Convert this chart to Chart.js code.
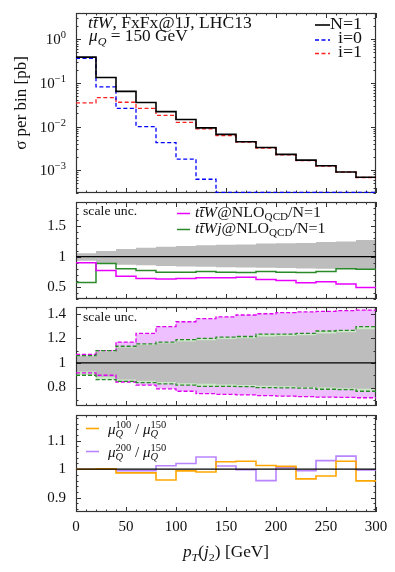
<!DOCTYPE html>
<html>
<head>
<meta charset="utf-8">
<script src="https://cdn.jsdelivr.net/npm/chart.js@4.4.0/dist/chart.umd.min.js"></script>
<style>
  body { margin: 0; background: #fff; }
  #wrap { position: relative; width: 395px; height: 572px; }
  canvas { position: absolute; left: 0; }
</style>
</head>
<body>
<div id="wrap">
  <canvas id="c1" width="395" height="200" style="top:0px"></canvas>
  <canvas id="c2" width="395" height="102" style="top:200px"></canvas>
  <canvas id="c3" width="395" height="106" style="top:302px"></canvas>
  <canvas id="c4" width="395" height="162" style="top:410px"></canvas>
</div>
<script>
// bins of pT(j2), GeV
const binEdges = [0, 20, 40, 60, 80, 100, 120, 140, 160, 180, 200, 220, 240, 260, 280, 300];

// top panel: sigma per bin [pb]
const sigmaN1 = [0.39, 0.133, 0.064, 0.0355, 0.022, 0.0145, 0.0093, 0.0066, 0.0045, 0.0033, 0.0023, 0.0017, 0.00126, 0.00091, 0.00069];
const sigmaI0 = [0.367, 0.081, 0.026, 0.0100, 0.0043, 0.0018, 0.00062, 0.00031, 0.00031, 0.00031, 0.00031, 0.00031, 0.00031, 0.00031, 0.00031];
const sigmaI1 = [0.035, 0.046, 0.036, 0.026, 0.018, 0.0124, 0.0088, 0.0062, 0.0044, 0.0032, 0.00226, 0.00166, 0.00124, 0.0009, 0.00068];

// N=1 scale uncertainty band (ratio)
const n1Up = [1.055, 1.09, 1.125, 1.145, 1.16, 1.175, 1.185, 1.195, 1.2, 1.215, 1.22, 1.225, 1.24, 1.25, 1.275];
const n1Dn = [0.93, 0.885, 0.865, 0.855, 0.845, 0.835, 0.83, 0.825, 0.82, 0.815, 0.81, 0.805, 0.8, 0.795, 0.79];

// second panel: NLO / N=1
const ttwNloRatio  = [0.90, 0.77, 0.677, 0.64, 0.628, 0.64, 0.65, 0.65, 0.66, 0.623, 0.606, 0.568, 0.584, 0.546, 0.49];
const ttwjNloRatio = [0.574, 0.885, 0.80, 0.77, 0.743, 0.743, 0.754, 0.743, 0.738, 0.754, 0.743, 0.738, 0.754, 0.797, 0.79];

// third panel: scale uncertainty envelopes
const ttwUp  = [1.07, 1.10, 1.17, 1.24, 1.295, 1.335, 1.36, 1.375, 1.39, 1.40, 1.41, 1.415, 1.42, 1.425, 1.43];
const ttwDn  = [0.92, 0.90, 0.845, 0.82, 0.79, 0.77, 0.75, 0.745, 0.74, 0.734, 0.73, 0.726, 0.722, 0.72, 0.717];
const ttwjUp = [1.06, 1.10, 1.136, 1.155, 1.17, 1.19, 1.20, 1.21, 1.215, 1.235, 1.235, 1.24, 1.26, 1.265, 1.295];
const ttwjDn = [0.90, 0.865, 0.85, 0.84, 0.83, 0.82, 0.81, 0.81, 0.807, 0.80, 0.797, 0.795, 0.786, 0.783, 0.77];

// bottom panel: mu_Q variations
const mu100Ratio = [1.0, 1.001, 0.987, 0.987, 0.962, 0.994, 0.99, 1.026, 1.028, 1.013, 1.01, 0.966, 0.976, 1.028, 0.959];
const mu200Ratio = [1.0, 1.0, 0.995, 0.995, 1.012, 1.02, 1.043, 1.011, 0.998, 0.96, 1.005, 0.995, 1.03, 1.046, 0.997];

// tick labels
const xTicks = [0, 50, 100, 150, 200, 250, 300];
const topExponents = [-3, -2, -1, 0];
const ticks2 = [0.5, 1, 1.5];
const ticks3 = [0.8, 1, 1.2, 1.4];
const ticks4 = [0.9, 1, 1.1];

const SERIF = "'Liberation Serif', 'DejaVu Serif', serif";
Chart.defaults.font.family = SERIF;
Chart.defaults.font.size = 15;
Chart.defaults.color = '#111';

function steps(vals) {
  const pts = vals.map((v, i) => ({ x: binEdges[i], y: v }));
  pts.push({ x: binEdges[binEdges.length - 1], y: vals[vals.length - 1] });
  return pts;
}
const unity = binEdges.map(x => ({ x: x, y: 1 }));

// rich text: parts = [[text, flags]], flags: i italic, b sub, p sup, o overlay previous
function drawRich(ctx, x, y, parts, size, align, hs) {
  hs = hs || 1;
  let cx = 0, lastStart = 0;
  const items = [];
  parts.forEach(p => {
    const t = p[0], f = p[1] || '';
    const small = f.includes('b') || f.includes('p');
    const fs = small ? size * 0.7 : size;
    const font = (f.includes('i') ? 'italic ' : '') + fs.toFixed(1) + 'px ' + SERIF;
    ctx.font = font;
    const w = ctx.measureText(t).width;
    const dy = f.includes('b') ? size * 0.22 : (f.includes('p') ? -size * 0.4 : 0);
    let sx;
    if (f.includes('o')) { sx = lastStart; cx = Math.max(cx, sx + w); }
    else { sx = cx; lastStart = sx; cx += w; }
    items.push({ t, font, sx, dy });
  });
  let x0 = x;
  if (align === 'right') x0 = x - cx * hs;
  else if (align === 'center') x0 = x - cx * hs / 2;
  ctx.save();
  ctx.translate(x0, y);
  ctx.scale(hs, 1);
  ctx.fillStyle = '#111';
  ctx.textBaseline = 'alphabetic';
  ctx.textAlign = 'left';
  items.forEach(it => { ctx.font = it.font; ctx.fillText(it.t, it.sx, it.dy); });
  ctx.restore();
}

// frame + inward ticks (under the lines), then annotations and legend
function deco(cfg) {
  return {
    id: 'deco',
    beforeDatasetsDraw(chart) {
      const { ctx, chartArea: a, scales } = chart;
      ctx.save();
      ctx.strokeStyle = '#333';
      ctx.lineWidth = 1;
      ctx.beginPath();
      for (let v = 0; v <= 300; v += 10) {
        const px = Math.round(scales.x.getPixelForValue(v)) + 0.5;
        const len = v % 50 === 0 ? 5 : 2.5;
        ctx.moveTo(px, a.bottom); ctx.lineTo(px, a.bottom - len);
        ctx.moveTo(px, a.top); ctx.lineTo(px, a.top + len);
      }
      const yt = (v, len) => {
        if (v < scales.y.min || v > scales.y.max) return;
        const py = Math.round(scales.y.getPixelForValue(v)) + 0.5;
        ctx.moveTo(a.left, py); ctx.lineTo(a.left + len, py);
        ctx.moveTo(a.right, py); ctx.lineTo(a.right - len, py);
      };
      if (cfg.log) {
        for (let e = -4; e <= 0; e++) {
          yt(Math.pow(10, e), 5);
          for (let k = 2; k <= 9; k++) yt(k * Math.pow(10, e), 2.5);
        }
      } else {
        cfg.yMajor.forEach(v => yt(v, 5));
        for (let v = Math.ceil(scales.y.min / cfg.yMinor) * cfg.yMinor; v <= scales.y.max; v += cfg.yMinor) yt(v, 2.5);
      }
      ctx.stroke();
      ctx.lineWidth = 1.2;
      ctx.strokeRect(a.left + 0.5, a.top + 0.5, a.width - 1, a.height - 1);
      ctx.restore();
    },
    afterDatasetsDraw(chart) {
      const { ctx, chartArea: a, scales } = chart;
      if (cfg.log) {
        topExponents.forEach(e => {
          const py = scales.y.getPixelForValue(Math.pow(10, e));
          drawRich(ctx, a.left - 10, py + 5, [['10'], [e < 0 ? '\u2212' + (-e) : String(e), 'p']], 15, 'right');
        });
      }
      (cfg.texts || []).forEach(t => {
        drawRich(ctx, a.left + t.dx, (t.bottom ? a.bottom : a.top) + t.dy, t.parts, t.size, t.align, t.hs);
      });
      (cfg.legend || []).forEach(l => {
        const ds = chart.data.datasets[l.ds];
        ctx.save();
        ctx.strokeStyle = ds.borderColor;
        ctx.lineWidth = ds.borderWidth;
        ctx.setLineDash(ds.borderDash || []);
        ctx.beginPath();
        ctx.moveTo(a.left + l.x1, a.top + l.y);
        ctx.lineTo(a.left + l.x2, a.top + l.y);
        ctx.stroke();
        ctx.restore();
        drawRich(ctx, a.left + l.tx, a.top + l.ty, l.parts, l.size, l.align, l.hs);
      });
    }
  };
}

function line(data, color, width, dash, extra) {
  return Object.assign({
    data: steps(data), borderColor: color, borderWidth: width, borderDash: dash || [],
    stepped: true, pointRadius: 0, fill: false, order: 0
  }, extra || {});
}

const xHidden = { type: 'linear', min: 0, max: 300, display: false };
function ratioY(min, max, ticks) {
  return {
    type: 'linear', min: min, max: max,
    grid: { display: false, drawTicks: false }, border: { display: false },
    afterBuildTicks: s => { s.ticks = ticks.map(v => ({ value: v })); },
    afterFit: s => { s.width = 76; s.paddingTop = 0; s.paddingBottom = 0; },
    ticks: { padding: 10, font: { size: 15 }, color: '#111', callback: v => String(+(+v).toFixed(2)) }
  };
}
const baseOpts = {
  responsive: false, animation: false, events: [],
  plugins: { legend: { display: false }, tooltip: { enabled: false }, filler: { drawTime: 'beforeDatasetsDraw' } }
};
const ttW = [['t', 'i'], ['t\u0304', 'i'], ['W', 'i']];

// panel 1: cross section
new Chart(document.getElementById('c1'), {
  type: 'line',
  data: {
    datasets: [
      line(sigmaN1, '#000', 1.6),
      line(sigmaI0, '#0000ff', 1.3, [4, 2.5]),
      line(sigmaI1, '#ff2020', 1.3, [4, 2.5])
    ]
  },
  options: Object.assign({}, baseOpts, {
    layout: { padding: { left: 0, right: 19, top: 13, bottom: 7 } },
    scales: {
      x: xHidden,
      y: {
        type: 'logarithmic', min: 3e-4, max: 4,
        grid: { display: false, drawTicks: false }, border: { display: false },
        ticks: { display: false },
        title: { display: true, text: '\u03c3 per bin [pb]', font: { size: 17 }, color: '#111', padding: { top: 11, bottom: 0 } },
        afterFit: s => { s.width = 76; s.paddingTop = 0; s.paddingBottom = 0; }
      }
    }
  }),
  plugins: [deco({
    log: true,
    texts: [
      { dx: 12, dy: 15, size: 16, hs: 1.1, parts: ttW.concat([[', FxFx@1J, LHC13']]) },
      { dx: 13, dy: 28, size: 16, hs: 1.08, parts: [['\u03bc', 'i'], ['Q', 'ib'], [' = 150 GeV']] }
    ],
    legend: [
      { ds: 0, x1: 239, x2: 254, y: 12, tx: 286, ty: 16, size: 16, hs: 1.12, align: 'right', parts: [['N=1']] },
      { ds: 1, x1: 239, x2: 254, y: 27, tx: 286, ty: 30, size: 16, hs: 1.12, align: 'right', parts: [['i=0']] },
      { ds: 2, x1: 239, x2: 254, y: 40.5, tx: 286, ty: 44, size: 16, hs: 1.12, align: 'right', parts: [['i=1']] }
    ]
  })]
});

// panel 2: NLO ratios
new Chart(document.getElementById('c2'), {
  type: 'line',
  data: {
    datasets: [
      line(n1Up, 'rgba(0,0,0,0)', 0, [], { fill: 1, backgroundColor: '#bdbdbd', order: 1 }),
      line(n1Dn, 'rgba(0,0,0,0)', 0, [], { order: 1 }),
      line(ttwNloRatio, '#e800ff', 1.5),
      line(ttwjNloRatio, '#2a8a2a', 1.5),
      { data: unity, borderColor: '#000', borderWidth: 1.2, pointRadius: 0, fill: false, order: -1 }
    ]
  },
  options: Object.assign({}, baseOpts, {
    layout: { padding: { left: 0, right: 19, top: 2, bottom: 3 } },
    scales: { x: xHidden, y: ratioY(0.3, 1.9, ticks2) }
  }),
  plugins: [deco({
    yMajor: ticks2, yMinor: 0.1,
    texts: [{ dx: 7, dy: 13, size: 12.5, hs: 1.1, parts: [['scale unc.']] }],
    legend: [
      { ds: 2, x1: 101, x2: 114, y: 11.5, tx: 119, ty: 15, size: 14.5, hs: 1.1, parts: ttW.concat([['@NLO'], ['QCD', 'b'], ['/N=1']]) },
      { ds: 3, x1: 101, x2: 114, y: 27.5, tx: 119, ty: 31, size: 14.5, hs: 1.1, parts: [['t', 'i'], ['t\u0304', 'i'], ['Wj', 'i'], ['@NLO'], ['QCD', 'b'], ['/N=1']] }
    ]
  })]
});

// panel 3: scale uncertainties
new Chart(document.getElementById('c3'), {
  type: 'line',
  data: {
    datasets: [
      line(n1Up, 'rgba(0,0,0,0)', 0, [], { fill: 1, backgroundColor: '#bdbdbd', order: 1 }),
      line(n1Dn, 'rgba(0,0,0,0)', 0, [], { order: 1 }),
      line(ttwUp, '#e000f0', 1.3, [4, 2], { fill: 3, backgroundColor: '#efc0ff', order: 3 }),
      line(ttwDn, '#e000f0', 1.3, [4, 2], { order: 3 }),
      line(ttwjUp, '#2a8a2a', 1.3, [4, 2], { fill: 5, backgroundColor: '#cde8c8', order: 2 }),
      line(ttwjDn, '#2a8a2a', 1.3, [4, 2], { order: 2 }),
      { data: unity, borderColor: '#000', borderWidth: 1.2, pointRadius: 0, fill: false, order: -1 }
    ]
  },
  options: Object.assign({}, baseOpts, {
    layout: { padding: { left: 0, right: 19, top: 5, bottom: 2 } },
    scales: { x: xHidden, y: ratioY(0.65, 1.455, ticks3) }
  }),
  plugins: [deco({
    yMajor: ticks3, yMinor: 0.1,
    texts: [{ dx: 7, dy: 14, size: 12.5, hs: 1.1, parts: [['scale unc.']] }]
  })]
});

// panel 4: mu_Q variations
new Chart(document.getElementById('c4'), {
  type: 'line',
  data: {
    datasets: [
      line(mu100Ratio, '#ffa600', 1.6),
      line(mu200Ratio, '#b885ff', 1.6),
      { data: unity, borderColor: '#000', borderWidth: 1.2, pointRadius: 0, fill: false, order: -1 }
    ]
  },
  options: Object.assign({}, baseOpts, {
    layout: { padding: { left: 0, right: 19, top: 5, bottom: 0 } },
    scales: {
      x: {
        type: 'linear', min: 0, max: 300,
        grid: { display: false, drawTicks: false }, border: { display: false },
        afterBuildTicks: s => { s.ticks = xTicks.map(v => ({ value: v })); },
        afterFit: s => { s.height = 60; s.paddingLeft = 0; s.paddingRight = 0; },
        ticks: { padding: 6, font: { size: 15 }, color: '#111', maxRotation: 0 }
      },
      y: ratioY(0.85, 1.19, ticks4)
    }
  }),
  plugins: [deco({
    yMajor: ticks4, yMinor: 0.02,
    texts: [{ dx: 150, dy: 45, bottom: true, size: 16, hs: 1.08, align: 'center', parts: [['p', 'i'], ['T', 'ib'], ['('], ['j', 'i'], ['2', 'b'], [') [GeV]']] }],
    legend: [
      { ds: 0, x1: 10, x2: 23, y: 13.5, tx: 32, ty: 18.5, size: 15, parts: [['\u03bc', 'i'], ['Q', 'ib'], ['100', 'po'], [' / '], ['\u03bc', 'i'], ['Q', 'ib'], ['150', 'po']] },
      { ds: 1, x1: 10, x2: 23, y: 36.5, tx: 32, ty: 42, size: 15, parts: [['\u03bc', 'i'], ['Q', 'ib'], ['200', 'po'], [' / '], ['\u03bc', 'i'], ['Q', 'ib'], ['150', 'po']] }
    ]
  })]
});
</script>
</body>
</html>
